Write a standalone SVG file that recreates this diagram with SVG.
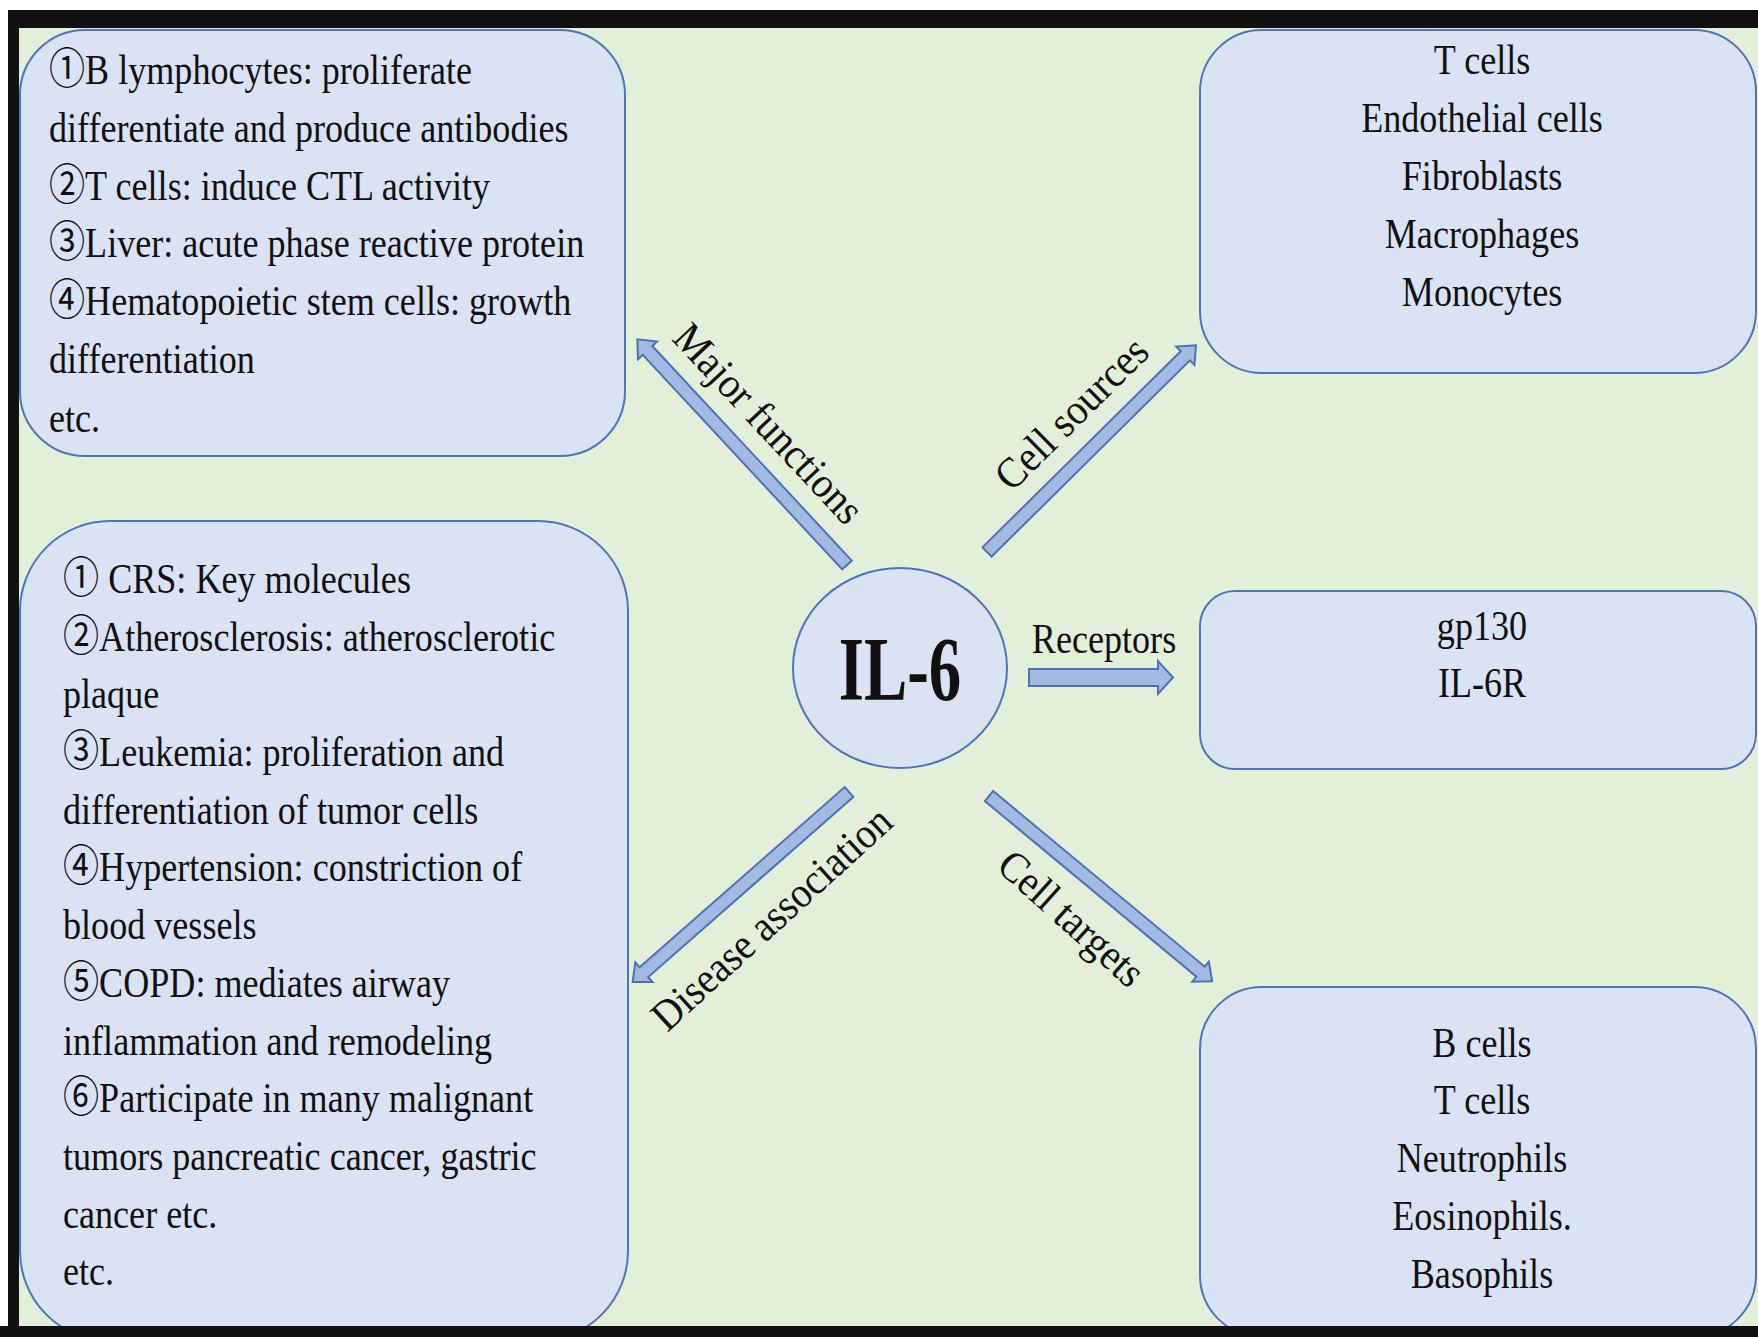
<svg xmlns="http://www.w3.org/2000/svg" width="1758" height="1337" viewBox="0 0 1758 1337">
<defs>
<style>
.box{fill:#dae3f3;stroke:#4f74bc;stroke-width:2}
.arr{fill:#a2bae2;stroke:#4f6fb6;stroke-width:2;stroke-linejoin:miter}
.t{font-family:"Liberation Serif","Times New Roman","Noto Sans CJK SC",serif;font-size:43px;fill:#111}
.c{text-anchor:middle}
.b{font-weight:bold;font-size:90px}
</style>
</defs>
<rect x="0" y="0" width="1758" height="1337" fill="#ffffff"/>
<rect x="8" y="10" width="1750" height="1327" fill="#111111"/>
<rect x="19" y="28" width="1739" height="1298" fill="#e2efd9"/>

<g id="node-major-functions">
<rect class="box" x="20" y="30" width="605" height="426" rx="65" ry="65"/>
<g transform="translate(49,0) scale(0.84,1)">
<text class="t" x="0" y="84">①B lymphocytes: proliferate</text>
<text class="t" x="0" y="142">differentiate and produce antibodies</text>
<text class="t" x="0" y="200">②T cells: induce CTL activity</text>
<text class="t" x="0" y="257">③Liver: acute phase reactive protein</text>
<text class="t" x="0" y="315">④Hematopoietic stem cells: growth</text>
<text class="t" x="0" y="373">differentiation</text>
<text class="t" x="0" y="432">etc.</text>
</g>
</g>

<g id="node-disease-association">
<rect class="box" x="20" y="521" width="608" height="820" rx="90" ry="90"/>
<g transform="translate(63,0) scale(0.84,1)">
<text class="t" x="0" y="593">① CRS: Key molecules</text>
<text class="t" x="0" y="651">②Atherosclerosis: atherosclerotic</text>
<text class="t" x="0" y="708">plaque</text>
<text class="t" x="0" y="766">③Leukemia: proliferation and</text>
<text class="t" x="0" y="824">differentiation of tumor cells</text>
<text class="t" x="0" y="881">④Hypertension: constriction of</text>
<text class="t" x="0" y="939">blood vessels</text>
<text class="t" x="0" y="997">⑤COPD: mediates airway</text>
<text class="t" x="0" y="1055">inflammation and remodeling</text>
<text class="t" x="0" y="1112">⑥Participate in many malignant</text>
<text class="t" x="0" y="1170">tumors pancreatic cancer, gastric</text>
<text class="t" x="0" y="1228">cancer etc.</text>
<text class="t" x="0" y="1285">etc.</text>
</g>
</g>

<g id="node-cell-sources">
<rect class="box" x="1200" y="30" width="556" height="343" rx="62" ry="62"/>
<g transform="translate(1482,0) scale(0.84,1)">
<text class="t c" x="0" y="74">T cells</text>
<text class="t c" x="0" y="132">Endothelial cells</text>
<text class="t c" x="0" y="190">Fibroblasts</text>
<text class="t c" x="0" y="248">Macrophages</text>
<text class="t c" x="0" y="306">Monocytes</text>
</g>
</g>

<g id="node-receptors">
<rect class="box" x="1200" y="591" width="556" height="178" rx="35" ry="35"/>
<g transform="translate(1482,0) scale(0.84,1)">
<text class="t c" x="0" y="640">gp130</text>
<text class="t c" x="0" y="697">IL-6R</text>
</g>
</g>

<g id="node-cell-targets">
<rect class="box" x="1200" y="987" width="556" height="350" rx="62" ry="62"/>
<g transform="translate(1482,0) scale(0.84,1)">
<text class="t c" x="0" y="1057">B cells</text>
<text class="t c" x="0" y="1114">T cells</text>
<text class="t c" x="0" y="1172">Neutrophils</text>
<text class="t c" x="0" y="1230">Eosinophils.</text>
<text class="t c" x="0" y="1288">Basophils</text>
</g>
</g>

<g id="node-il6">
<ellipse class="box" cx="900" cy="668" rx="107" ry="100"/>
<g transform="translate(900,0) scale(0.72,1)">
<text class="t c b" x="0" y="700">IL-6</text>
</g>
</g>

<rect x="0" y="1326" width="1758" height="11" fill="#111111"/>

<g id="connectors">
<polygon class="arr" transform="translate(847,565) rotate(-132.9)" points="0,-6.5 293,-6.5 293,-13 308,0 293,13 293,6.5 0,6.5"/>
<polygon class="arr" transform="translate(987,552) rotate(-44.7)" points="0,-6.5 279,-6.5 279,-13 294,0 279,13 279,6.5 0,6.5"/>
<polygon class="arr" transform="translate(849,792) rotate(138.7)" points="0,-6.5 273,-6.5 273,-13 288,0 273,13 273,6.5 0,6.5"/>
<polygon class="arr" transform="translate(989,796) rotate(39.7)" points="0,-6.5 275,-6.5 275,-13 290,0 275,13 275,6.5 0,6.5"/>
<polygon class="arr" points="1029,669 1158,669 1158,661 1173,677.5 1158,694 1158,686 1029,686"/>
<g transform="translate(767,425) rotate(47) scale(0.93,1)"><text class="t c" x="0" y="12">Major functions</text></g>
<g transform="translate(1073,415) rotate(-44.8) scale(0.93,1)"><text class="t c" x="0" y="12">Cell sources</text></g>
<g transform="translate(773,920) rotate(-42.4) scale(0.92,1)"><text class="t c" x="0" y="12">Disease association</text></g>
<g transform="translate(1070,920) rotate(42) scale(0.92,1)"><text class="t c" x="0" y="12">Cell targets</text></g>
<g transform="translate(1104,0) scale(0.84,1)"><text class="t c" x="0" y="653">Receptors</text></g>
</g>
</svg>
